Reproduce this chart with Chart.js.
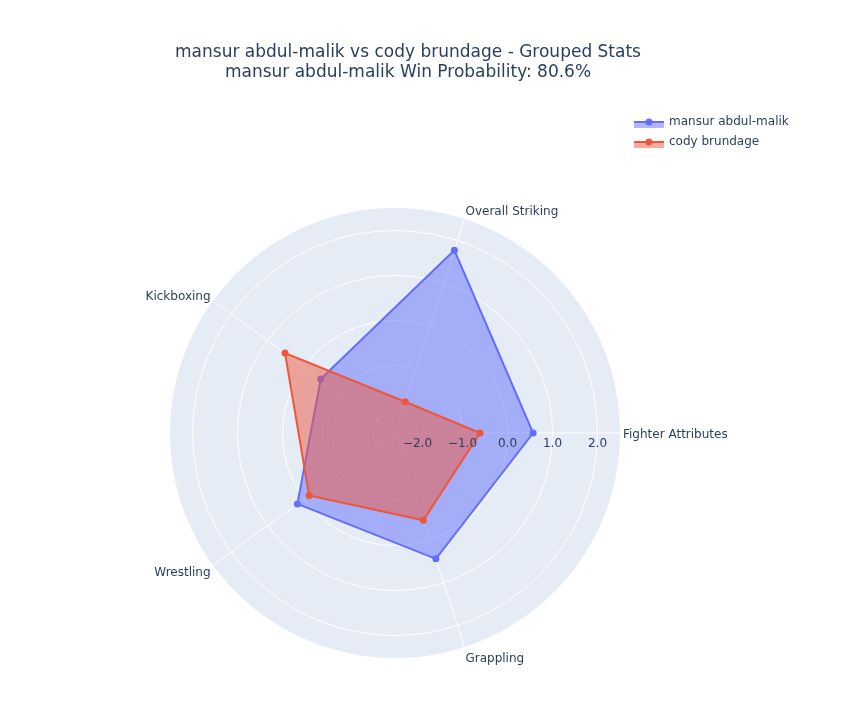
<!DOCTYPE html>
<html>
<head>
<meta charset="utf-8">
<title>mansur abdul-malik vs cody brundage - Grouped Stats</title>
<script src="https://cdn.jsdelivr.net/npm/chart.js@4.4.1/dist/chart.umd.min.js"></script>
<style>
  html, body { margin: 0; padding: 0; background: #fff; }
  #wrap { width: 849px; height: 704px; position: relative; }
</style>
</head>
<body>
<div id="wrap"><canvas id="radar-chart"></canvas></div>
<script>
// categories as plotly lays them out (counter-clockwise from the right)
const categories = ['Fighter Attributes', 'Overall Striking', 'Kickboxing', 'Wrestling', 'Grappling'];
const mansurValues = [0.57, 1.77, -0.46, 0.18, 0.44];
const codyValues = [-0.61, -1.77, 0.52, -0.14, -0.46];
const tickValues = [-2, -1, 0, 1, 2];
const tickLabels = ['\u22122.0', '\u22121.0', '0.0', '1.0', '2.0'];
const titleLines = [
  'mansur abdul-malik vs cody brundage - Grouped Stats',
  'mansur abdul-malik Win Probability: 80.6%'
];

// chart.js walks clockwise, so take the categories backwards after the first
const order = [0, 4, 3, 2, 1];
const pick = arr => order.map(i => arr[i]);

const FONT = '"DejaVu Sans", Verdana, sans-serif';
const TEXT = '#2a3f5f';

const polarBits = {
  id: 'polarBits',
  beforeDraw(chart) {
    const r = chart.scales.r;
    const ctx = chart.ctx;
    ctx.save();
    ctx.fillStyle = '#e5ecf6';
    ctx.beginPath();
    ctx.arc(r.xCenter, r.yCenter, r.drawingArea, 0, Math.PI * 2);
    ctx.fill();
    ctx.restore();
  },
  afterDatasetsDraw(chart) {
    const r = chart.scales.r;
    const ctx = chart.ctx;
    ctx.save();
    ctx.font = '12px ' + FONT;
    ctx.fillStyle = TEXT;
    ctx.textBaseline = 'middle';

    // radial ticks sit just under the axis line
    ctx.textAlign = 'center';
    tickValues.forEach((v, i) => {
      ctx.fillText(tickLabels[i], r.xCenter + r.getDistanceFromCenterForValue(v), r.yCenter + 11);
    });

    // category labels round the outside
    chart.data.labels.forEach((lab, i) => {
      const p = r.getPointPosition(i, r.drawingArea + 3);
      const c = Math.cos(p.angle), s = Math.sin(p.angle);
      ctx.textAlign = c > 0.1 ? 'left' : (c < -0.1 ? 'right' : 'center');
      ctx.fillText(lab, p.x, p.y + s * 7 + 2);
    });
    ctx.restore();
  },
  afterDraw(chart) {
    const ctx = chart.ctx;
    ctx.save();
    ctx.fillStyle = TEXT;
    ctx.textBaseline = 'middle';
    ctx.textAlign = 'center';
    ctx.font = '17px ' + FONT;
    ctx.fillText(titleLines[0], 408, 53);
    ctx.fillText(titleLines[1], 408, 73);

    // legend, top right
    ctx.font = '12px ' + FONT;
    ctx.textAlign = 'left';
    chart.data.datasets.forEach((ds, i) => {
      const cy = 122 + i * 20;
      ctx.fillStyle = ds.backgroundColor;
      ctx.fillRect(634, cy - 1, 30, 7);
      ctx.strokeStyle = ds.borderColor;
      ctx.lineWidth = 2;
      ctx.beginPath();
      ctx.moveTo(634, cy);
      ctx.lineTo(664, cy);
      ctx.stroke();
      ctx.fillStyle = ds.borderColor;
      ctx.beginPath();
      ctx.arc(649, cy, 3.5, 0, Math.PI * 2);
      ctx.fill();
      ctx.fillStyle = TEXT;
      ctx.fillText(ds.label, 669, cy);
    });
    ctx.restore();
  }
};

new Chart(document.getElementById('radar-chart'), {
  type: 'radar',
  data: {
    labels: pick(categories),
    datasets: [{
      label: 'mansur abdul-malik',
      data: pick(mansurValues),
      fill: 'start',
      borderColor: '#636efa',
      backgroundColor: 'rgba(99, 110, 250, 0.5)',
      pointBackgroundColor: '#636efa',
      order: 2
    },
    {
      label: 'cody brundage',
      data: pick(codyValues),
      fill: 'start',
      borderColor: '#EF553B',
      backgroundColor: 'rgba(239, 85, 59, 0.5)',
      pointBackgroundColor: '#EF553B',
      order: 1
    }]
  },

  options: {
    responsive: true,
    maintainAspectRatio: false,
    animation: false,
    layout: {
      padding: { left: 170, right: 229, top: 208, bottom: 46 }
    },
    elements: {
      line: { borderWidth: 2, tension: 0 },
      point: { radius: 3.5, hoverRadius: 3.5, borderWidth: 0 }
    },
    plugins: {
      legend: { display: false },
      title: { display: false },
      tooltip: { enabled: false }
    },
    scales: {
      r: {
        min: -2.5,
        max: 2.5,
        startAngle: 90,
        afterBuildTicks: (scale) => {
          scale.ticks = tickValues.map(v => ({ value: v }));
        },
        ticks: { display: false },
        pointLabels: { display: false },
        grid: { color: '#ffffff', lineWidth: 1, circular: true },
        angleLines: { color: '#ffffff', lineWidth: 1 }
      }
    }
  },
  plugins: [polarBits]
});
</script>
</body>
</html>
